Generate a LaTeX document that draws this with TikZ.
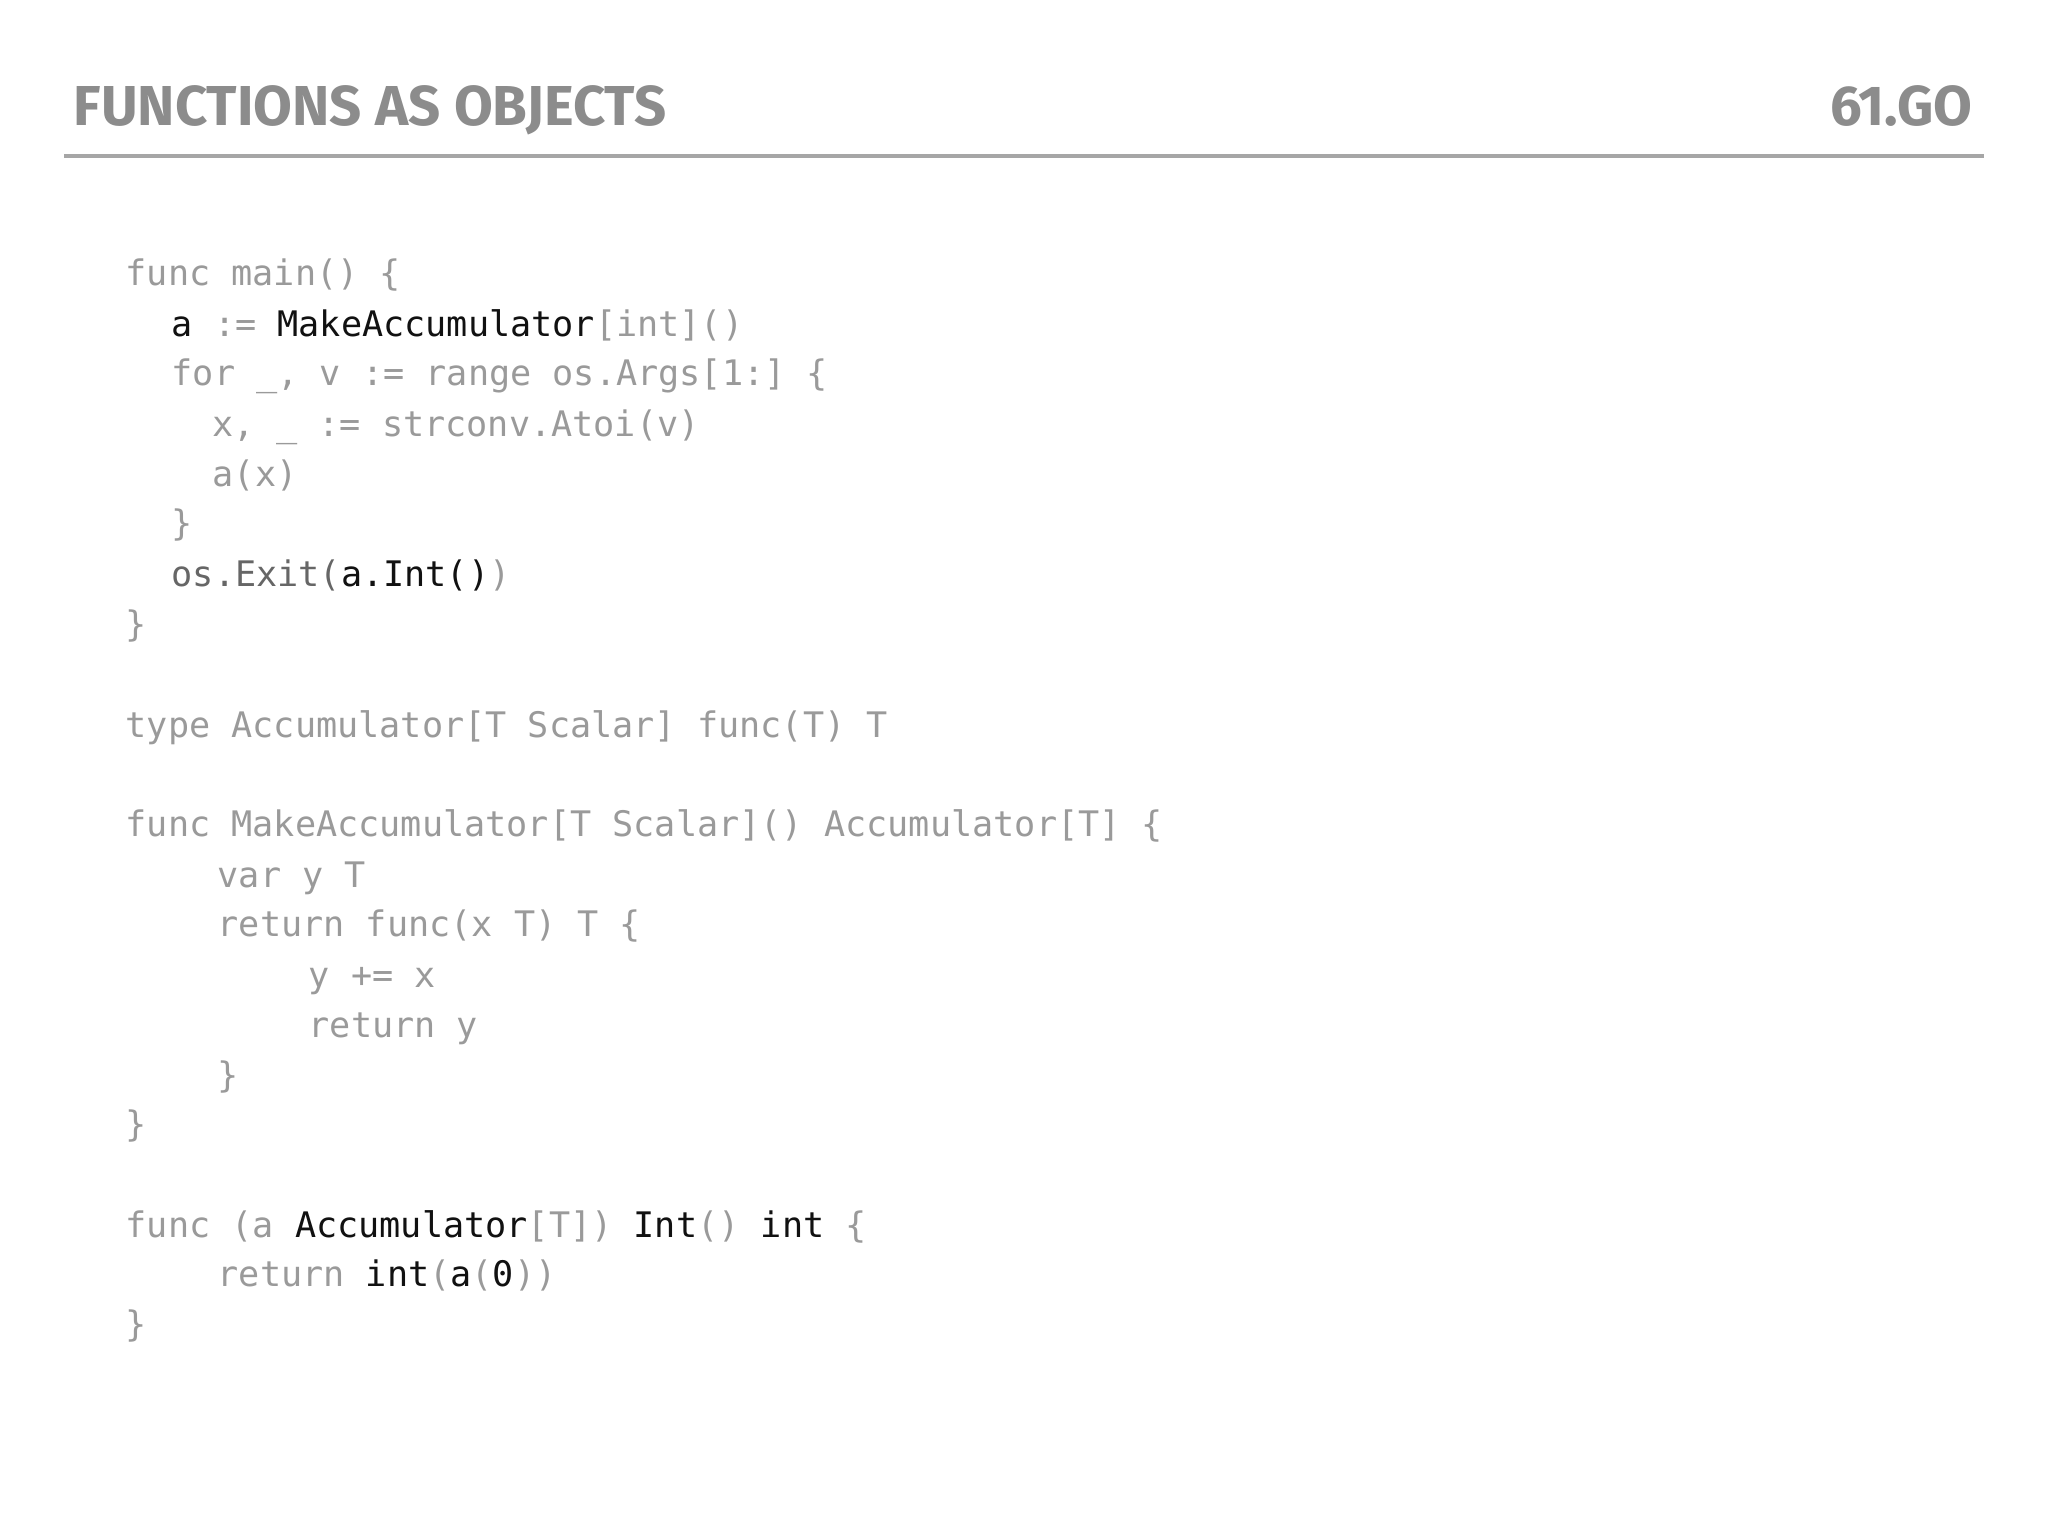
\documentclass[tikz,border=0pt]{standalone}
\usepackage{fontspec}
\setmainfont{Fira Sans}
\setmonofont{DejaVu Sans Mono}
\definecolor{cg}{HTML}{9A9A9A}
\definecolor{tg}{HTML}{8C8C8C}
\definecolor{ck}{HTML}{111111}
\newcommand{\K}[1]{\textcolor{ck}{#1}}
\begin{document}
\begin{tikzpicture}[x=0.01cm,y=-0.01cm,
  code/.style={anchor=base west,inner sep=0,text=cg,font=\ttfamily\fontsize{10}{12}\selectfont},
  ttl/.style={inner sep=0,text=tg,font=\fontsize{16}{18}\selectfont\bfseries}]
\useasboundingbox[fill=white] (0,0) rectangle (2048,1536);
\node[ttl,anchor=base west] (title) at (73,125) {FUNCTIONS AS OBJECTS};
\node[ttl,anchor=base east] (num) at (1973,125) {61.GO};
\coordinate (r1) at (64,156); \coordinate (r2) at (1984,156);
\draw[color=black!35,line width=1.1pt] (r1) -- (r2);
\node[code] (l1) at (125,285) {func main() \{};
\node[code] (l2) at (171,336) {\K{a} := \K{MakeAccumulator}[int]()};
\node[code] (l3) at (171,385) {for \_, v := range os.Args[1:] \{};
\node[code] (l4) at (212,436) {x, \_ := strconv.Atoi(v)};
\node[code] (l5) at (212,486) {a(x)};
\node[code] (l6) at (171,535) {\}};
\node[code] (l7) at (171,586) {\textcolor{black!60}{os.Exit(}\K{a.Int()})};
\node[code] (l8) at (125,636) {\}};
\node[code] (l9) at (125,737) {type Accumulator[T Scalar] func(T) T};
\node[code] (l10) at (125,836) {func MakeAccumulator[T Scalar]() Accumulator[T] \{};
\node[code] (l11) at (217,887) {var y T};
\node[code] (l12) at (217,936) {return func(x T) T \{};
\node[code] (l13) at (308,987) {y += x};
\node[code] (l14) at (308,1037) {return y};
\node[code] (l15) at (217,1087) {\}};
\node[code] (l16) at (125,1136) {\}};
\node[code] (l17) at (125,1237) {func (a \K{Accumulator}[T]) \K{Int}() \K{int} \{};
\node[code] (l18) at (217,1286) {return \K{int}(\K{a}(\K{0}))};
\node[code] (l19) at (125,1336) {\}};
\end{tikzpicture}
\end{document}
